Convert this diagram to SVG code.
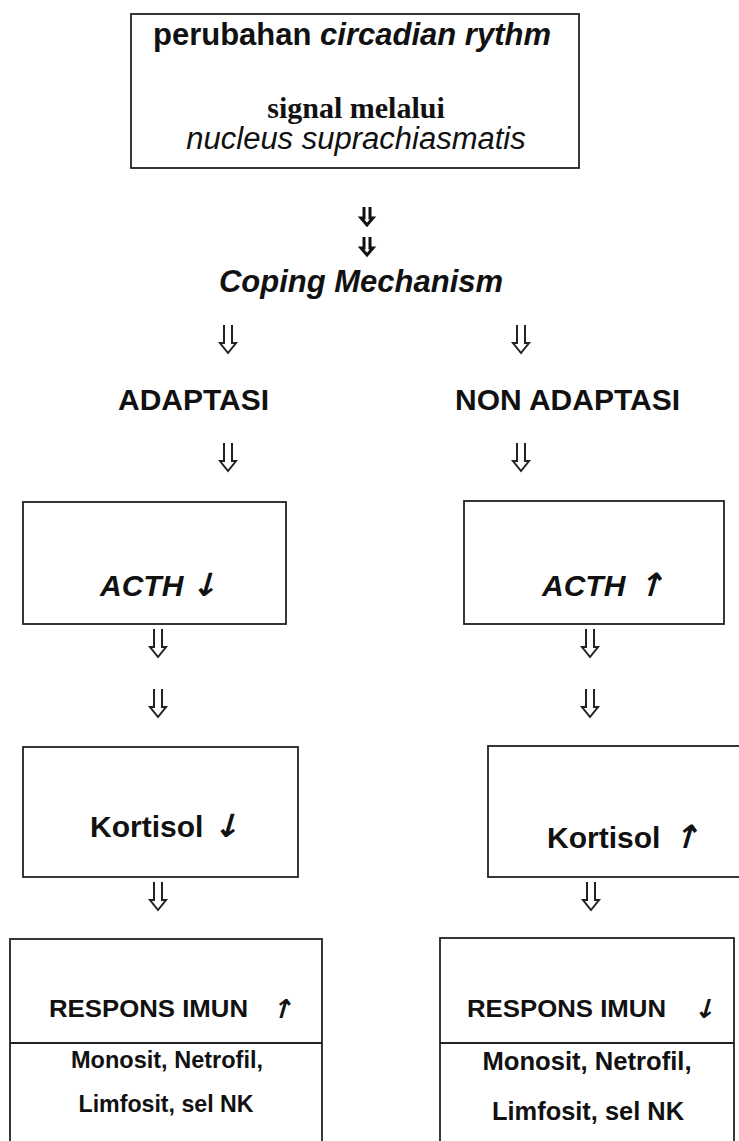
<svg xmlns="http://www.w3.org/2000/svg" width="739" height="1141" viewBox="0 0 739 1141">
<style>
.box{fill:none;stroke:#222;stroke-width:1.8}
.sans{font-family:"Liberation Sans",Arial,sans-serif;fill:#111}
.b{font-weight:bold}
.i{font-style:italic}
.ar{font-family:"DejaVu Sans",sans-serif;fill:#111;text-anchor:middle}
.serif{font-family:"Liberation Serif","Times New Roman",serif;fill:#111;font-weight:bold}
.arr{fill:none;stroke:#222;stroke-width:2;stroke-linejoin:miter}
.arrs{fill:none;stroke:#111;stroke-width:3}
</style>
<defs>
<path id="dar" d="M -4,0 V 18 L -8,18 L 0,28 L 8,18 L 4,18 V 0" class="arr"/>
<path id="dsm" d="M -3,0 V 11 L -6,11 L 0,18 L 6,11 L 3,11 V 0" class="arrs"/>
</defs>
<rect width="739" height="1141" fill="#fff"/>
<g id="top">
<rect class="box" x="131" y="14" width="448" height="154"/>
<text class="sans b" x="153" y="45" font-size="31">perubahan <tspan class="i">circadian rythm</tspan></text>
<text class="serif" x="356" y="118" font-size="30" text-anchor="middle">signal melalui</text>
<text class="sans i" x="356" y="149" font-size="31" text-anchor="middle">nucleus suprachiasmatis</text>
</g>
<g id="coping">
<text class="sans b i" x="361" y="292" font-size="31" text-anchor="middle">Coping Mechanism</text>
</g>
<g id="adaptasi">
<text class="sans b" x="118" y="410" font-size="30">ADAPTASI</text>
</g>
<g id="nonadaptasi">
<text class="sans b" x="455" y="410" font-size="30">NON ADAPTASI</text>
</g>
<g id="acth-down">
<rect class="box" x="23" y="502" width="263" height="122"/>
<text class="sans b i" x="100" y="596" font-size="30">ACTH</text>
<text class="ar" font-size="32" font-weight="bold" transform="translate(204,596) skewX(-16)">↓</text>
</g>
<g id="acth-up">
<rect class="box" x="464" y="501" width="260" height="123"/>
<text class="sans b i" x="542" y="596" font-size="30">ACTH</text>
<text class="ar" font-size="32" font-weight="bold" transform="translate(650,596) skewX(-16)">↑</text>
</g>
<g id="kortisol-down">
<rect class="box" x="23" y="747" width="275" height="130"/>
<text class="sans b" x="90" y="837" font-size="30">Kortisol</text>
<text class="ar" font-size="32" font-weight="bold" transform="translate(226,837) skewX(-16)">↓</text>
</g>
<g id="kortisol-up">
<rect class="box" x="488" y="746" width="260" height="131"/>
<text class="sans b" x="547" y="848" font-size="30">Kortisol</text>
<text class="ar" font-size="32" font-weight="bold" transform="translate(685,848) skewX(-16)">↑</text>
</g>
<g id="respons-up">
<rect class="box" x="10" y="939" width="312" height="215"/>
<line class="box" x1="10" y1="1043" x2="322" y2="1043"/>
<text class="sans b" x="49" y="1017" font-size="24" textLength="199" lengthAdjust="spacingAndGlyphs">RESPONS IMUN</text>
<text class="ar" font-size="26" font-weight="bold" transform="translate(281,1018) skewX(-16)">↑</text>
<text class="sans b" x="167" y="1068" font-size="23" text-anchor="middle" textLength="192" lengthAdjust="spacingAndGlyphs">Monosit, Netrofil,</text>
<text class="sans b" x="166" y="1112" font-size="23" text-anchor="middle" textLength="175" lengthAdjust="spacingAndGlyphs">Limfosit, sel NK</text>
</g>
<g id="respons-down">
<rect class="box" x="440" y="938" width="294" height="215"/>
<line class="box" x1="440" y1="1043" x2="734" y2="1043"/>
<text class="sans b" x="467" y="1017" font-size="24" textLength="199" lengthAdjust="spacingAndGlyphs">RESPONS IMUN</text>
<text class="ar" font-size="26" font-weight="bold" transform="translate(704,1018) skewX(-16)">↓</text>
<text class="sans b" x="587" y="1070" font-size="25" text-anchor="middle" textLength="209" lengthAdjust="spacingAndGlyphs">Monosit, Netrofil,</text>
<text class="sans b" x="588" y="1120" font-size="25" text-anchor="middle" textLength="192" lengthAdjust="spacingAndGlyphs">Limfosit, sel NK</text>
</g>
<g id="connectors">
<use href="#dsm" x="367" y="207"/>
<use href="#dsm" x="367" y="237"/>
<use href="#dar" x="228" y="325"/>
<use href="#dar" x="521" y="325"/>
<use href="#dar" x="228" y="443"/>
<use href="#dar" x="521" y="443"/>
<use href="#dar" x="158" y="629"/>
<use href="#dar" x="590" y="629"/>
<use href="#dar" x="158" y="689"/>
<use href="#dar" x="590" y="689"/>
<use href="#dar" x="158" y="882"/>
<use href="#dar" x="591" y="882"/>
</g>
</svg>
